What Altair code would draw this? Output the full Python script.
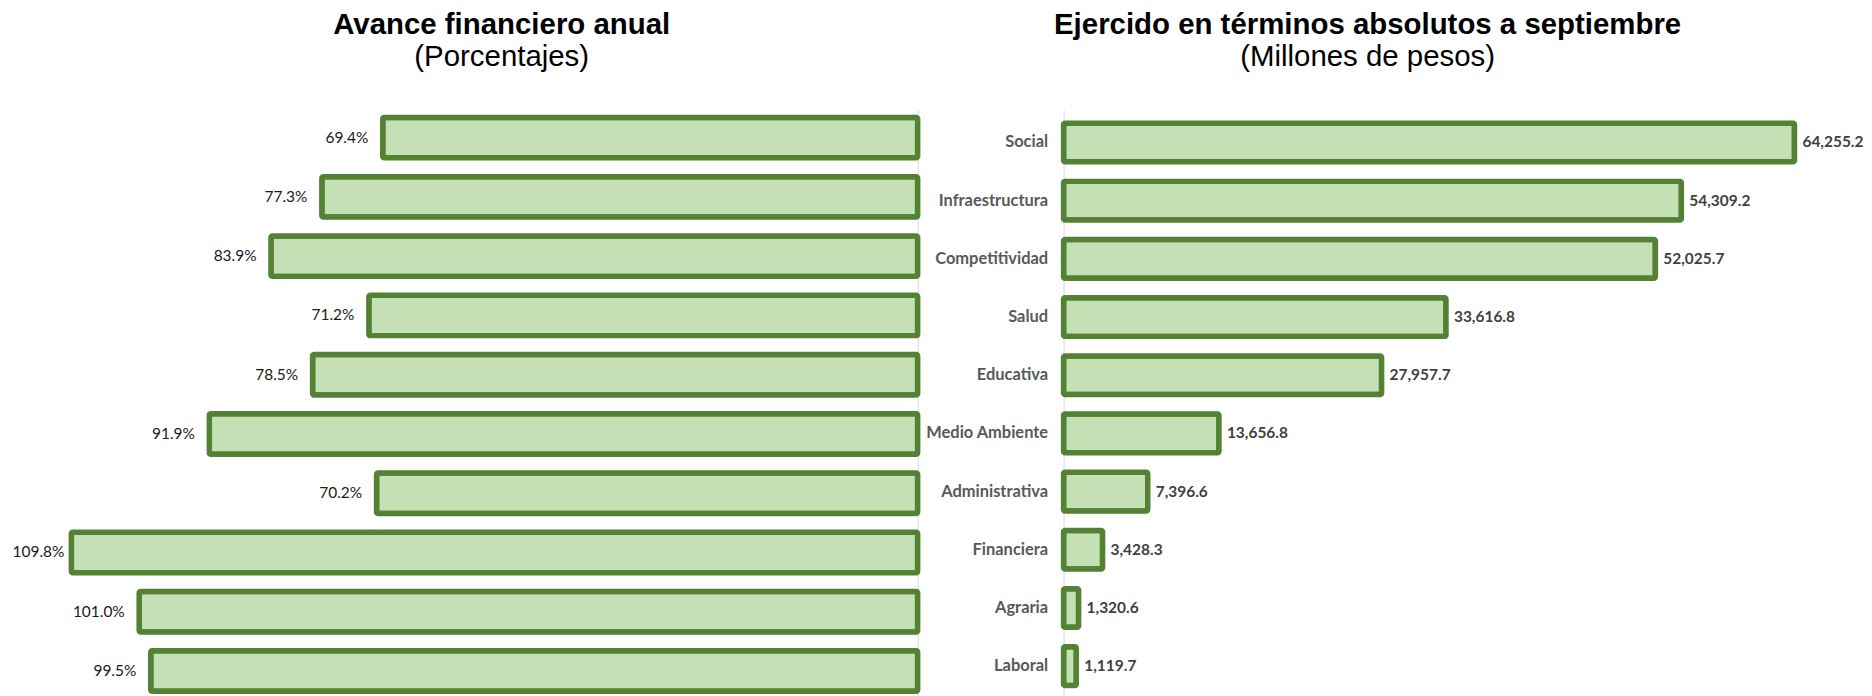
import altair as alt
import pandas as pd

categories = ["Social", "Infraestructura", "Competitividad", "Salud", "Educativa",
              "Medio Ambiente", "Administrativa", "Financiera", "Agraria", "Laboral"]
pct_values = [69.4, 77.3, 83.9, 71.2, 78.5, 91.9, 70.2, 109.8, 101.0, 99.5]
abs_values = [64255.2, 54309.2, 52025.7, 33616.8, 27957.7, 13656.8, 7396.6, 3428.3, 1320.6, 1119.7]

df = pd.DataFrame({"cat": categories, "pct": pct_values, "abs": abs_values})

FILL = "#C5E0B4"
STROKE = "#548235"
LBL_FONT = "Lato, sans-serif"
TITLE_FONT = "Liberation Sans, Arial, sans-serif"

# ---------- left panel ----------
yl = alt.Y("cat:N", sort=categories,
           scale=alt.Scale(paddingInner=0.319, paddingOuter=0.130),
           axis=alt.Axis(orient="right", labels=False, ticks=False, title=None,
                         domain=True, domainColor="#D9D9D9", domainWidth=1, grid=False))
xl = alt.X("pct:Q", scale=alt.Scale(domain=[0, 110], reverse=True, nice=False), axis=None)

left_bars = alt.Chart(df).mark_bar(fill=FILL, stroke=STROKE, strokeWidth=5.5,
                                   cornerRadius=1.5, strokeJoin="round").encode(x=xl, y=yl)
left_text = alt.Chart(df).transform_calculate(
    lx="min(datum.pct + 1.87, 110.7)",
    lbl="format(datum.pct, '.1f') + '%'"
).mark_text(align="right", baseline="middle", font=LBL_FONT, fontSize=15.5,
            color="#1A1A1A").encode(
    x=alt.X("lx:Q", scale=alt.Scale(domain=[0, 110], reverse=True, nice=False), axis=None),
    y=alt.Y("cat:N", sort=categories), text="lbl:N")

left = alt.layer(left_bars, left_text).properties(
    width=850.6, height=591,
    title=alt.Title("Avance financiero anual", subtitle="(Porcentajes)",
                    font=TITLE_FONT, fontSize=29.5, fontWeight="bold", color="#000000",
                    subtitleFont=TITLE_FONT, subtitleFontSize=29.5, subtitleColor="#000000",
                    subtitlePadding=3, anchor="middle", frame="group", dx=8, offset=37)
)

# ---------- right panel ----------
yr = alt.Y("cat:N", sort=categories,
           scale=alt.Scale(paddingInner=0.336, paddingOuter=0.2303),
           axis=alt.Axis(orient="left", ticks=False, title=None, labelPadding=16,
                         labelFont=LBL_FONT, labelFontSize=16.5, labelFontWeight="bold",
                         labelColor="#595959", domain=True, domainColor="#D9D9D9",
                         domainWidth=1, grid=False))
xr = alt.X("abs:Q", scale=alt.Scale(domain=[0, 68000], nice=False), axis=None)

right_bars = alt.Chart(df).mark_bar(fill=FILL, stroke=STROKE, strokeWidth=5.5,
                                    cornerRadius=1.5, strokeJoin="round").encode(x=xr, y=yr)
right_text = alt.Chart(df).mark_text(align="left", baseline="middle", dx=8, font=LBL_FONT,
                                     fontSize=15.5, fontWeight="bold", color="#404040").encode(
    x=xr, y=alt.Y("cat:N", sort=categories), text=alt.Text("abs:Q", format=",.1f"))

right = alt.layer(right_bars, right_text).properties(
    width=776, height=591,
    title=alt.Title("Ejercido en términos absolutos a septiembre", subtitle="(Millones de pesos)",
                    font=TITLE_FONT, fontSize=29.5, fontWeight="bold", color="#000000",
                    subtitleFont=TITLE_FONT, subtitleFontSize=29.5, subtitleColor="#000000",
                    subtitlePadding=3, anchor="middle", frame="group", dx=-83, offset=37)
)

chart = alt.hconcat(left, right, spacing=4).resolve_scale(y="independent").properties(
    padding={"left": 4, "top": 1, "right": 0, "bottom": 0},
    background="white"
).configure_view(stroke="transparent", strokeWidth=0)

chart.save("out.html", embed_options={"renderer": "svg", "actions": False})
